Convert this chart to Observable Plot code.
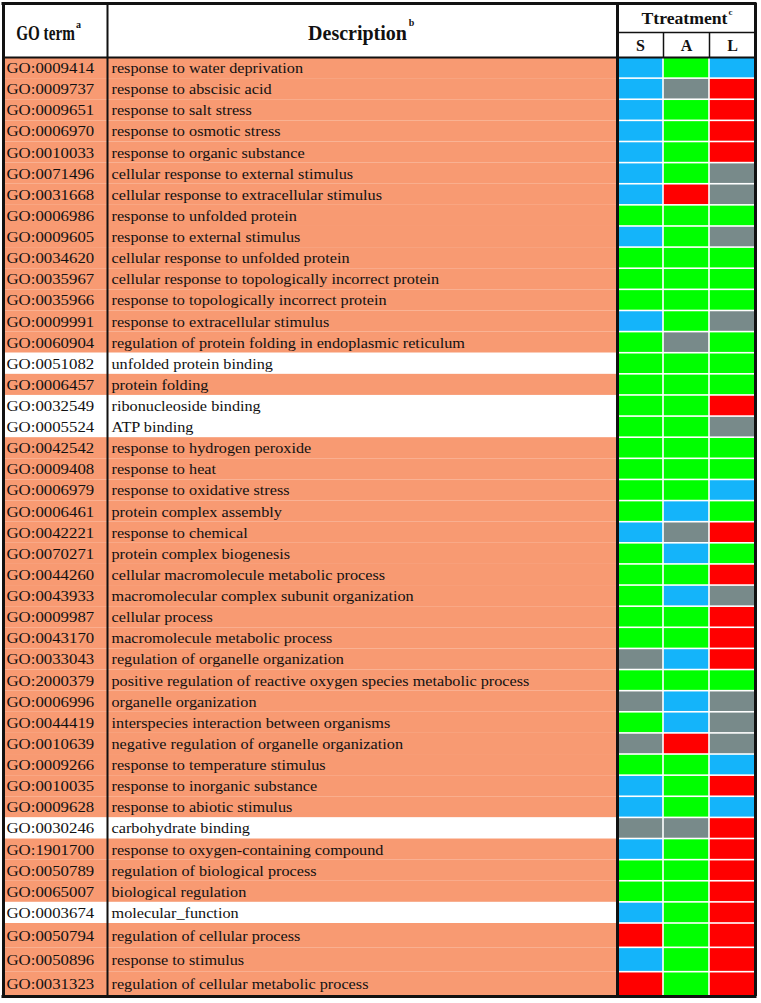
<!DOCTYPE html>
<html><head><meta charset="utf-8">
<script src="https://cdn.jsdelivr.net/npm/d3@7"></script>
<script src="https://cdn.jsdelivr.net/npm/@observablehq/plot@0.6"></script>
<style>body{margin:0;background:#fff}</style>
</head><body><div id="chart"></div>
<script>
// ---------- data ----------
const goTerms = [
"GO:0009414","GO:0009737","GO:0009651","GO:0006970","GO:0010033","GO:0071496","GO:0031668",
"GO:0006986","GO:0009605","GO:0034620","GO:0035967","GO:0035966","GO:0009991","GO:0060904",
"GO:0051082","GO:0006457","GO:0032549","GO:0005524","GO:0042542","GO:0009408","GO:0006979",
"GO:0006461","GO:0042221","GO:0070271","GO:0044260","GO:0043933","GO:0009987","GO:0043170",
"GO:0033043","GO:2000379","GO:0006996","GO:0044419","GO:0010639","GO:0009266","GO:0010035",
"GO:0009628","GO:0030246","GO:1901700","GO:0050789","GO:0065007","GO:0003674","GO:0050794",
"GO:0050896","GO:0031323"];
const descriptions = [
"response to water deprivation","response to abscisic acid","response to salt stress",
"response to osmotic stress","response to organic substance","cellular response to external stimulus",
"cellular response to extracellular stimulus","response to unfolded protein","response to external stimulus",
"cellular response to unfolded protein","cellular response to topologically incorrect protein",
"response to topologically incorrect protein","response to extracellular stimulus",
"regulation of protein folding in endoplasmic reticulum","unfolded protein binding","protein folding",
"ribonucleoside binding","ATP binding","response to hydrogen peroxide","response to heat",
"response to oxidative stress","protein complex assembly","response to chemical","protein complex biogenesis",
"cellular macromolecule metabolic process","macromolecular complex subunit organization","cellular process",
"macromolecule metabolic process","regulation of organelle organization",
"positive regulation of reactive oxygen species metabolic process","organelle organization",
"interspecies interaction between organisms","negative regulation of organelle organization",
"response to temperature stimulus","response to inorganic substance","response to abiotic stimulus",
"carbohydrate binding","response to oxygen-containing compound","regulation of biological process",
"biological regulation","molecular_function","regulation of cellular process","response to stimulus",
"regulation of cellular metabolic process"];
// molecular-function terms (unshaded rows)
const unshadedTerms = ["GO:0051082","GO:0032549","GO:0005524","GO:0030246","GO:0003674"];
const treatments = ["S","A","L"];
// cell categories: Bl = blue, Gr = green, Rd = red, Gy = grey
const statusS = ["Bl","Bl","Bl","Bl","Bl","Bl","Bl","Gr","Bl","Gr","Gr","Gr","Bl","Gr",
"Gr","Gr","Gr","Gr","Gr","Gr","Gr","Gr","Bl","Gr","Gr","Gr","Gr","Gr",
"Gy","Gr","Gy","Gr","Gy","Gr","Bl","Bl","Gy","Bl","Gr","Gr","Bl","Rd","Bl","Rd"];
const statusA = ["Gr","Gy","Gr","Gr","Gr","Gr","Rd","Gr","Gr","Gr","Gr","Gr","Gr","Gy",
"Gr","Gr","Gr","Gr","Gr","Gr","Gr","Bl","Gy","Bl","Gr","Bl","Gr","Gr",
"Bl","Gr","Bl","Bl","Rd","Gr","Gr","Gr","Gy","Gr","Gr","Gr","Gr","Gr","Gr","Gr"];
const statusL = ["Bl","Rd","Rd","Rd","Rd","Gy","Gy","Gr","Gy","Gr","Gr","Gr","Gy","Gr",
"Gr","Gr","Rd","Gy","Gr","Gr","Bl","Gr","Rd","Gr","Rd","Gy","Rd","Rd",
"Rd","Gr","Gy","Gy","Gy","Bl","Rd","Bl","Rd","Rd","Rd","Rd","Rd","Rd","Rd","Rd"];
const statusKeys = ["Bl","Gr","Rd","Gy"];
const headerLabels = ["GO term","Description","Ttreatment"];
const headerNotes = ["a","b","c"];

// ---------- layout ----------
const W = 761, H = 1003;
const L = 3, R = 755, T = 3, B = 996;
const goCol = [3, 107], descCol = [107, 617];
const treatCols = {S: [617, 663], A: [663, 709], L: [709, 755]};
const headMid = 32, headBottom = 57;
const tallFrom = 41, tallFactor = 1.152;
const weights = goTerms.map((d, i) => i >= tallFrom ? tallFactor : 1);
const unit = (B - headBottom) / d3.sum(weights);
let acc = headBottom;
const rows = goTerms.map((go, i) => {
  const y1 = acc; acc += weights[i] * unit;
  return {go, desc: descriptions[i], unshaded: unshadedTerms.includes(go), y1, y2: acc, ym: (y1 + acc) / 2 + 0.5};
});
const statusBy = {S: statusS, A: statusA, L: statusL};
const cells = rows.flatMap((r, i) => treatments.map(t => ({
  treatment: t, status: statusBy[t][i], y1: r.y1, y2: r.y2, x1: treatCols[t][0], x2: treatCols[t][1]
})));
const headers = [
  {label: headerLabels[0], note: headerNotes[0], x: 45, y: 33},
  {label: headerLabels[1], note: headerNotes[1], x: 357, y: 33},
  {label: headerLabels[2], note: headerNotes[2], x: 684, y: 18}
];
const subHeaders = treatments.map(t => ({t, x: (treatCols[t][0] + treatCols[t][1]) / 2, y: (headMid + headBottom) / 2 + 1}));

const serif = "Liberation Serif, Times New Roman, serif";
const orange = "#F89A72";
const ink = "#111";

const chart = Plot.plot({
  width: W, height: H,
  marginTop: 0, marginRight: 0, marginBottom: 0, marginLeft: 0,
  x: {domain: [0, W], range: [0, W], axis: null},
  y: {domain: [0, H], range: [0, H], axis: null},
  color: {type: "ordinal", domain: statusKeys, range: ["#14B4FA", "#00FF00", "#FF0000", "#788A8A"]},
  style: {background: "#fff"},
  marks: [
    Plot.rect(rows, {x1: L, x2: descCol[1], y1: "y1", y2: "y2", fill: d => d.unshaded ? "#ffffff" : orange}),
    Plot.rect(cells, {x1: "x1", x2: "x2", y1: "y1", y2: "y2", fill: "status", inset: 0.8}),
    // text groups 0..7 (order used for stretching below)
    Plot.text(rows, {x: goCol[0] + 3, y: "ym", text: "go", textAnchor: "start", fontFamily: serif, fontSize: 14, fill: ink}),
    Plot.text(rows, {x: descCol[0] + 4, y: "ym", text: "desc", textAnchor: "start", fontFamily: serif, fontSize: 14, fill: ink}),
    Plot.text(headers.slice(0, 1), {x: "x", y: "y", text: "label", fontFamily: serif, fontWeight: "bold", fontSize: 20, fill: ink}),
    Plot.text(headers.slice(1, 2), {x: "x", y: "y", text: "label", fontFamily: serif, fontWeight: "bold", fontSize: 20, fill: ink}),
    Plot.text(headers.slice(2), {x: "x", y: "y", text: "label", fontFamily: serif, fontWeight: "bold", fontSize: 17, fill: ink}),
    Plot.text(headers.slice(0, 1), {x: "x", y: "y", text: "note", dx: 33, dy: -9, fontFamily: serif, fontWeight: "bold", fontSize: 10, fill: ink}),
    Plot.text(headers.slice(1, 2), {x: "x", y: "y", text: "note", dx: 54, dy: -11, fontFamily: serif, fontWeight: "bold", fontSize: 10, fill: ink}),
    Plot.text(headers.slice(2), {x: "x", y: "y", text: "note", dx: 46, dy: -6, fontFamily: serif, fontWeight: "bold", fontSize: 9, fill: ink}),
    Plot.text(subHeaders, {x: "x", y: "y", text: "t", fontFamily: serif, fontWeight: "bold", fontSize: 16, fill: ink}),
    // table rules
    Plot.ruleY([headMid], {x1: treatCols.S[0], x2: R, stroke: ink, strokeWidth: 1.5}),
    Plot.ruleX([treatCols.A[0], treatCols.L[0]], {y1: headMid, y2: headBottom, stroke: ink, strokeWidth: 1.5}),
    Plot.ruleY([headBottom], {x1: L, x2: R, stroke: ink, strokeWidth: 2}),
    Plot.ruleX([goCol[1]], {y1: T, y2: B, stroke: ink, strokeWidth: 2}),
    Plot.ruleX([descCol[1]], {y1: T, y2: B, stroke: ink, strokeWidth: 3}),
    Plot.ruleY([T, B], {x1: L - 1.5, x2: R + 1.5, stroke: ink, strokeWidth: 3}),
    Plot.ruleX([L, R], {y1: T, y2: B, stroke: ink, strokeWidth: 3})
  ]
});
document.getElementById("chart").append(chart);

// horizontal stretch / condense of the printed typeface (text groups in mark order)
const textGroups = chart.querySelectorAll('g[aria-label="text"]');
function stretch(g, sx) {
  if (!g) return;
  g.querySelectorAll("text").forEach(el => {
    const tr = el.getAttribute("transform");
    if (tr) el.setAttribute("transform", tr + ` scale(${sx},1)`);
    else {
      const x = +el.getAttribute("x") || 0, y = +el.getAttribute("y") || 0;
      el.removeAttribute("x"); el.removeAttribute("y");
      el.setAttribute("transform", `translate(${x},${y}) scale(${sx},1)`);
    }
  });
}
stretch(textGroups[0], 1.2);
stretch(textGroups[1], 1.16);
stretch(textGroups[2], 0.76);
stretch(textGroups[4], 1.04);
</script>
</body></html>
